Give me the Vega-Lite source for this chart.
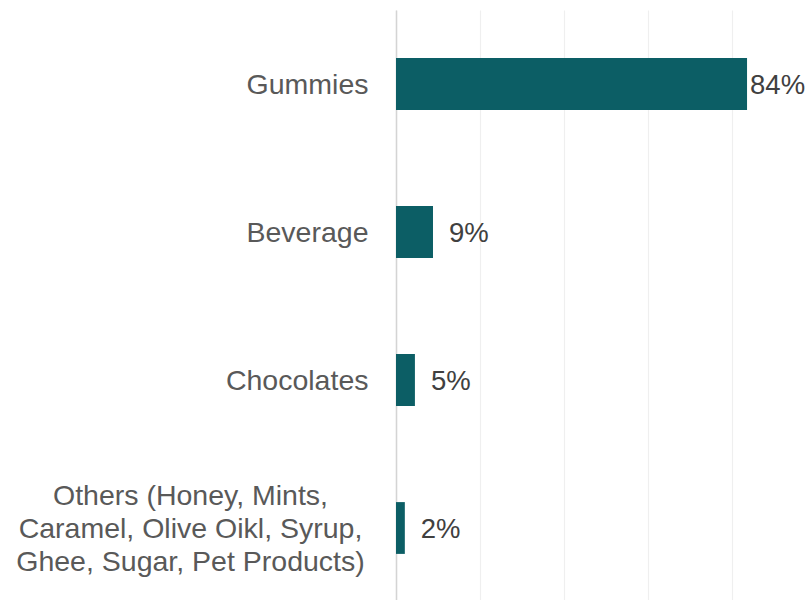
{
  "$schema": "https://vega.github.io/schema/vega-lite/v6.json",
  "width": 412,
  "height": 592,
  "autosize": {"type": "none"},
  "padding": {"left": 396, "top": 10, "right": 0, "bottom": 0},
  "background": "white",
  "config": {"view": {"stroke": null}, "font": "Liberation Sans"},
  "data": {
    "values": [
      {"category": "Gummies", "value": 0.835, "label": "84%"},
      {"category": "Beverage", "value": 0.088, "label": "9%"},
      {"category": "Chocolates", "value": 0.045, "label": "5%"},
      {"category": "Others (Honey, Mints,\nCaramel, Olive Oikl, Syrup,\nGhee, Sugar, Pet Products)", "value": 0.021, "label": "2%"}
    ]
  },
  "encoding": {
    "y": {
      "field": "category",
      "type": "nominal",
      "sort": null,
      "scale": {"paddingInner": 0.65, "paddingOuter": 0.325},
      "axis": {
        "title": null,
        "ticks": false,
        "domainColor": "#d4d4d4",
        "domainWidth": 1.5,
        "labelFont": "Liberation Sans",
        "labelFontSize": 28.5,
        "labelColor": "#595959",
        "labelPadding": {"condition": {"test": "indexof(datum.value, 'Others') == 0", "value": 206}, "value": 28},
        "labelAlign": {"condition": {"test": "indexof(datum.value, 'Others') == 0", "value": "center"}, "value": "right"},
        "labelOffset": {"condition": {"test": "indexof(datum.value, 'Others') == 0", "value": -32}, "value": 1},
        "labelLimit": 420,
        "labelLineHeight": 33,
        "labelExpr": "split(datum.label, '\\n')"
      }
    },
    "x": {
      "field": "value",
      "type": "quantitative",
      "scale": {"domain": [0, 0.98], "nice": false, "zero": true},
      "axis": {
        "title": null,
        "labels": false,
        "ticks": false,
        "domain": false,
        "values": [0, 0.2, 0.4, 0.6, 0.8],
        "grid": true,
        "gridColor": "#efefef",
        "gridWidth": 1.2
      }
    }
  },
  "layer": [
    {"mark": {"type": "bar", "color": "#0c5e65"}},
    {
      "transform": [{"filter": "datum.value < 0.5"}],
      "mark": {"type": "text", "align": "left", "baseline": "middle", "dx": 16, "dy": 2, "fontSize": 27.5, "color": "#404040", "font": "Liberation Sans"},
      "encoding": {"text": {"field": "label"}}
    },
    {
      "transform": [{"filter": "datum.value >= 0.5"}],
      "mark": {"type": "text", "align": "left", "baseline": "middle", "dx": 3, "dy": 2, "fontSize": 27.5, "color": "#404040", "font": "Liberation Sans"},
      "encoding": {"text": {"field": "label"}}
    }
  ]
}
